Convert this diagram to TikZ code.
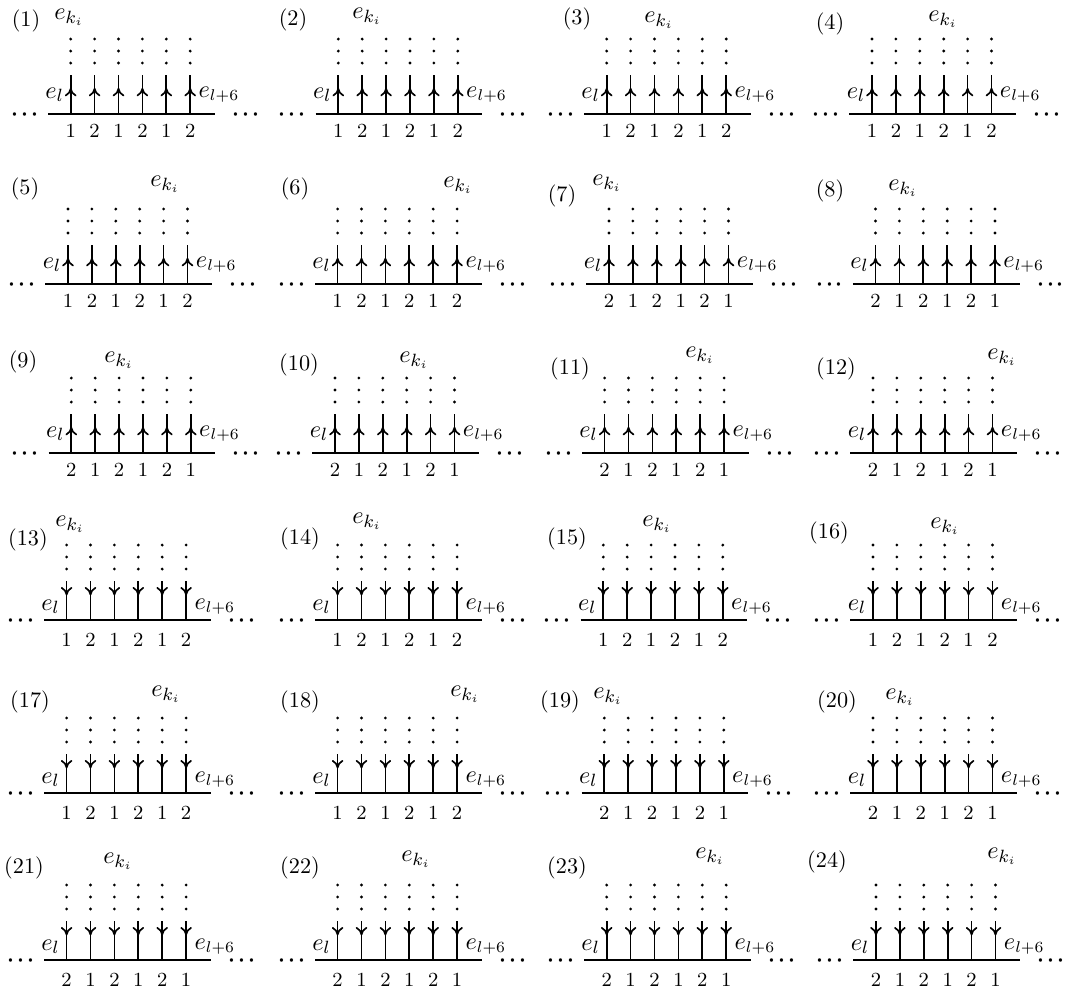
\documentclass[tikz,border=0pt]{standalone}
\usetikzlibrary{arrows.meta,decorations.markings}
\tikzset{
  base line/.style={line width=1.15pt},
  edge line/.style={line width=0.75pt},
  up edge/.style={edge line, postaction={decorate},
    decoration={markings, mark=at position 0.67 with {\arrow{Computer Modern Rightarrow[length=3.8pt,width=5.2pt,line width=0.75pt]}}}},
  down edge/.style={edge line, postaction={decorate},
    decoration={markings, mark=at position 0.37 with {\arrow{Computer Modern Rightarrow[length=3.8pt,width=5.2pt,line width=0.75pt]}}}},
  numlab/.style={font=\small, inner sep=0pt},
  elab/.style={inner sep=0pt, font=\fontsize{11}{13}\selectfont},
  erlab/.style={inner sep=0pt, font=\fontsize{10.5}{12}\selectfont},
  ellip/.style={inner ysep=0pt, inner xsep=-1.3pt, anchor=base, font=\Large},
  tag/.style={inner sep=0pt},
}
\newcommand{\myell}{${\cdot}\mkern0.6mu{\cdot}\mkern0.6mu{\cdot}$}
% #1 id, #2 x0, #3 y0, #4 up(1)/down(0), #5 first number, #6,#7 tag pos, #8,#9 e_{k_i} pos
\newcommand{\mypanel}[9]{%
\begin{scope}[shift={(#2,#3)}]
  \ifnum#4=1 \def\pElY{-16}\def\pErY{-17}\def\pNy{17}\else\def\pElY{-10}\def\pErY{-11}\def\pNy{20}\fi
  \coordinate (#1-L) at (-22.6,0);
  \coordinate (#1-R) at (144,0);
  \draw[base line] (#1-L) -- (#1-R);
  \node[ellip] (#1-dl) at (-46,8) {\myell};
  \node[ellip] (#1-dr) at (175,8) {\myell};
  \foreach \j in {0,...,5}{
    \coordinate (#1-b\j) at (\j*23.9,0);
    \coordinate (#1-t\j) at (\j*23.9,-39);
    \ifnum#4=1 \draw[up edge] (#1-b\j) -- (#1-t\j);\else \draw[down edge] (#1-t\j) -- (#1-b\j);\fi
    \foreach \d in {51,63,75}{\fill (\j*23.9,-\d) circle[radius=0.7pt];}
    \pgfmathtruncatemacro{\pNum}{mod(\j+#5-1,2)+1}
    \node[numlab] (#1-n\j) at (\j*23.9,\pNy) {\pNum};
  }
  \node[elab, anchor=base east] (#1-el) at (-6.5,\pElY) {$e_l$};
  \node[erlab, anchor=base west] (#1-er) at (127.5,\pErY) {$e_{l+6}$};
\end{scope}
\node[tag] (#1-lab) at (#6,#7) {(#1)};
\node[elab] (#1-ek) at (#8,#9) {$e_{k_i}$};
}
\begin{document}
\begin{tikzpicture}[x=0.45pt,y=-0.45pt]
\useasboundingbox (0,0) rectangle (1065,994);
% row 1
\mypanel{1}{70.7}{114}{1}{1}{26}{21}{69}{17}
\mypanel{2}{338.3}{114}{1}{1}{293}{20}{367}{16}
\mypanel{3}{606.7}{114}{1}{1}{577}{19}{659}{20}
\mypanel{4}{872}{114}{1}{1}{830}{24}{943}{19}
% row 2
\mypanel{5}{68}{284}{1}{1}{25}{189}{165}{184}
\mypanel{6}{337.6}{284}{1}{1}{295}{189}{458}{185}
\mypanel{7}{609}{284}{1}{2}{562}{196}{607}{183}
\mypanel{8}{875.5}{284}{1}{2}{830}{191}{903}{188}
% row 3
\mypanel{9}{71.3}{453}{1}{2}{23}{362}{119}{360}
\mypanel{10}{335}{453}{1}{2}{299}{365}{414}{360}
\mypanel{11}{604.6}{453}{1}{2}{570}{369}{700}{355}
\mypanel{12}{873}{453}{1}{2}{836}{369}{1002}{357}
% row 4
\mypanel{13}{66.6}{620}{0}{1}{28}{540}{70}{524}
\mypanel{14}{337.6}{620}{0}{1}{300}{539}{367}{521}
\mypanel{15}{603.3}{620}{0}{1}{567}{539}{657}{524}
\mypanel{16}{873}{620}{0}{1}{829}{533}{945}{526}
% row 5
\mypanel{17}{66.6}{793}{0}{1}{30}{702}{166}{694}
\mypanel{18}{337.6}{793}{0}{1}{300}{702}{465}{694}
\mypanel{19}{604.3}{793}{0}{2}{560}{702}{608}{696}
\mypanel{20}{873}{793}{0}{2}{837}{702}{900}{697}
% row 6
\mypanel{21}{66.6}{960}{0}{2}{24}{868}{118}{861}
\mypanel{22}{337.6}{960}{0}{2}{300}{868}{416}{859}
\mypanel{23}{606.7}{960}{0}{2}{567}{868}{710}{856}
\mypanel{24}{876}{960}{0}{2}{827}{862}{1002}{856}
\end{tikzpicture}
\end{document}
